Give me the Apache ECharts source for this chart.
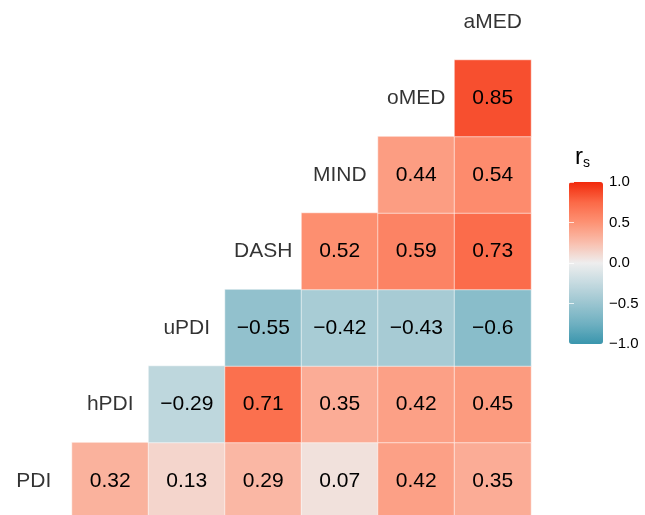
<!DOCTYPE html>
<html>
<head>
<meta charset="utf-8">
<script src="https://cdn.jsdelivr.net/npm/echarts@6/dist/echarts.min.js"></script>
<style>
html,body{margin:0;padding:0;background:#fff;overflow:hidden;width:645px;height:515px;}
#chart{position:absolute;left:-10px;top:-20px;width:665px;height:545px;}
</style>
</head>
<body>
<div id="chart"></div>
<script>
// Variables, bottom row first (also column order left to right)
const variables = ['PDI', 'hPDI', 'uPDI', 'DASH', 'MIND', 'oMED', 'aMED'];
// Each row: correlations with the variables to its right (next column onward)
const rowPDI  = [0.32, 0.13, 0.29, 0.07, 0.42, 0.35];
const rowHPDI = [-0.29, 0.71, 0.35, 0.42, 0.45];
const rowUPDI = [-0.55, -0.42, -0.43, -0.6];
const rowDASH = [0.52, 0.59, 0.73];
const rowMIND = [0.44, 0.54];
const rowOMED = [0.85];
const legendTicks = [-1.0, -0.5, 0.0, 0.5, 1.0];
const colorStops = ['#3A96AD', '#6FB0C1', '#9BC5D0', '#C5DAE0', '#EEEEEE', '#F9BEAD', '#FD9274', '#FB6947', '#F1290B'];

const rows = [rowPDI, rowHPDI, rowUPDI, rowDASH, rowMIND, rowOMED];
const cells = [];
rows.forEach((vals, r) => {
  vals.forEach((v, k) => cells.push([r + 1 + k, r, v]));
});
const diag = variables.map((name, i) => [i, i, name]);

const FONT = 'Liberation Sans, Arial, Helvetica, sans-serif';
const fmt = v => String(v).replace('-', '\u2212');
// container is offset by (-10, -20) so that the label column/row can sit partly outside the view
const OX = 10, OY = 20;

const chart = echarts.init(document.getElementById('chart'), null, {renderer: 'canvas'});
chart.setOption({
  backgroundColor: '#ffffff',
  animation: false,
  grid: [
    {left: -4.5 + OX, top: -16.5 + OY, width: 535.5, height: 535.5, containLabel: false},
    {left: 569 + OX, top: 182 + OY, width: 34, height: 162, containLabel: false}
  ],
  xAxis: [
    {type: 'category', data: variables, gridIndex: 0, show: false},
    {type: 'value', gridIndex: 1, min: 0, max: 1, show: false}
  ],
  yAxis: [
    {type: 'category', data: variables, gridIndex: 0, show: false},
    {type: 'value', gridIndex: 1, min: -1, max: 1, interval: 0.5, position: 'right', z: 10,
     axisLine: {show: false}, splitLine: {show: false},
     axisTick: {show: true, inside: true, length: 5, lineStyle: {color: 'rgba(255,255,255,0.75)', width: 1}},
     axisLabel: {show: true, margin: 6, color: '#000', fontSize: 15, fontFamily: FONT,
       formatter: v => fmt(Number(v).toFixed(1))}},
    {type: 'value', gridIndex: 1, min: -1, max: 1, interval: 0.5, position: 'left', z: 10,
     axisLine: {show: false}, splitLine: {show: false}, axisLabel: {show: false},
     axisTick: {show: true, inside: true, length: 5, lineStyle: {color: 'rgba(255,255,255,0.75)', width: 1}}}
  ],
  visualMap: {
    type: 'continuous',
    seriesIndex: 0,
    min: -1, max: 1,
    calculable: false,
    realtime: false,
    left: 569 + OX, top: 182 + OY,
    itemWidth: 34, itemHeight: 162,
    padding: 0,
    text: null,
    showLabel: false,
    hoverLink: false,
    inRange: {color: colorStops}
  },
  graphic: [
    {type: 'text', left: 575 + OX, top: 145 + OY, z: 20,
     style: {text: '{r|r}{s|s}', rich: {
       r: {fontSize: 24, fontFamily: FONT, fill: '#000'},
       s: {fontSize: 14, fontFamily: FONT, fill: '#000', padding: [12, 0, 0, 0]}
     }}}
  ],
  series: [
    {
      type: 'heatmap',
      xAxisIndex: 0, yAxisIndex: 0,
      data: cells,
      itemStyle: {borderColor: 'rgba(255,255,255,0.55)', borderWidth: 1},
      emphasis: {disabled: true},
      label: {show: true, color: '#000', fontSize: 21, fontFamily: FONT,
        formatter: p => fmt(p.value[2])}
    },
    {
      type: 'scatter',
      xAxisIndex: 0, yAxisIndex: 0,
      data: diag,
      symbolSize: 1,
      itemStyle: {color: 'rgba(0,0,0,0)'},
      silent: true,
      label: {show: true, position: 'inside', color: '#000', fontSize: 21, fontFamily: FONT,
        formatter: p => p.value[2]}
    },
    {
      type: 'scatter', xAxisIndex: 1, yAxisIndex: 1, data: [], silent: true
    }
  ]
});
</script>
</body>
</html>
